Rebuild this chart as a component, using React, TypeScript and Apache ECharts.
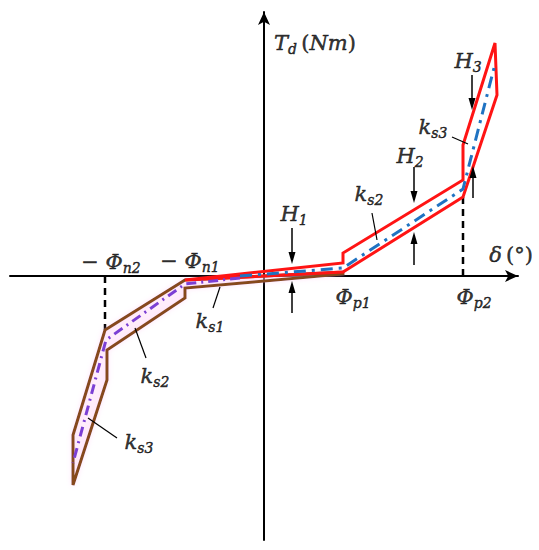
import React, { useEffect, useRef } from "react";
import * as echarts from "echarts";

// Schematic coordinates (x: twist angle δ, y: torque T_d), origin at the axes crossing
const posBandX = [-79, 79, 79, 199, 199, 231, 233, 199, 79];
const posBandY = [-4, 13, 23, 96, 131, 233, 181, 79, 4];
const negBandX = [-79, 79, 79, -79, -79, -157, -157, -191, -191, -159];
const negBandY = [-4, 4, 2, -12, -22, -74, -104, -209, -159, -54];
const posMidX = [-24, 79, 199, 230];
const posMidY = [0, 8, 87, 208];
const negMidX = [-24, -79, -158, -191];
const negMidY = [-2, -8, -64, -187];

// dashed guide lines at Φp2 and -Φn2
const guideX1 = [199, -159];
const guideY1 = [0, 0];
const guideX2 = [199, -159];
const guideY2 = [79, -54];

// H arrows: from (x1,y1) to tip (x2,y2)
const arrowX1 = [28, 28, 150, 150, 208, 209];
const arrowY1 = [48, -37, 109, 11, 201, 78];
const arrowX2 = [28, 28, 150, 150, 208, 209];
const arrowY2 = [12, -5, 73, 44, 166, 110];

// leader lines for k labels
const leaderX1 = [188, 108, -51, -129, -176];
const leaderY1 = [139, 63, -32, -52, -142];
const leaderX2 = [204, 113, -44, -118, -147];
const leaderY2 = [132, 36, -11, -82, -162];

// text labels
const labelText = [
  "{m|T}{s|d}{u|\u2009(}{m|Nm}{u|)}",
  "{m|δ}{u|\u2009(°)}",
  "{u|− }{m|Φ}{s|n2}",
  "{u|− }{m|Φ}{s|n1}",
  "{m|Φ}{s|p1}",
  "{m|Φ}{s|p2}",
  "{m|H}{s|1}",
  "{m|H}{s|2}",
  "{m|H}{s|3}",
  "{m|k}{s|s1}",
  "{m|k}{s|s2}",
  "{m|k}{s|s3}",
  "{m|k}{s|s2}",
  "{m|k}{s|s3}",
];
const labelX = [51, 247, -153, -74, 89, 210, 30, 146, 204, -54, 105, 169, -109, -125];
const labelY = [232, 20, 13, 14, -22, -22, 61, 119, 214, -46, 81, 148, -101, -167];

const pair = (xs: number[], ys: number[]) => xs.map((x, i) => [x, ys[i]]);

const FONT = "'DejaVu Serif', 'Liberation Serif', serif";
const common = { fontFamily: FONT, color: "#000", textBorderColor: "#000", textBorderWidth: 0.5, lineHeight: 24 };
const rich = {
  m: { ...common, fontStyle: "italic", fontSize: 21, verticalAlign: "top" },
  s: { ...common, fontStyle: "italic", fontSize: 14, verticalAlign: "bottom" },
  u: { ...common, fontSize: 21, verticalAlign: "top" },
};

function polygonSeries(xs: number[], ys: number[], stroke: string, fill: string, z: number, halo?: string) {
  return {
    type: "custom",
    coordinateSystem: "cartesian2d",
    silent: true,
    z,
    data: [[xs[0], ys[0]]],
    renderItem: (_p: any, api: any) => ({
      type: "polygon",
      shape: { points: pair(xs, ys).map((p) => api.coord(p)) },
      style: {
        fill,
        stroke,
        lineWidth: 3,
        lineJoin: "miter",
        miterLimit: 10,
        shadowBlur: halo ? 5 : 0,
        shadowColor: halo || "transparent",
      },
    }),
  };
}

function segmentSeries(x1: number[], y1: number[], x2: number[], y2: number[], width: number, dash: any, head: boolean, z: number) {
  return {
    type: "custom",
    coordinateSystem: "cartesian2d",
    silent: true,
    z,
    data: x1.map((x, i) => [x, y1[i], x2[i], y2[i]]),
    renderItem: (_p: any, api: any) => {
      const a = api.coord([api.value(0), api.value(1)]);
      const b = api.coord([api.value(2), api.value(3)]);
      const children: any[] = [];
      const dx = b[0] - a[0];
      const dy = b[1] - a[1];
      const len = Math.hypot(dx, dy) || 1;
      const ux = dx / len;
      const uy = dy / len;
      const hl = 12;
      const hw = 3.5;
      const end = head ? [b[0] - ux * hl * 0.8, b[1] - uy * hl * 0.8] : b;
      children.push({
        type: "line",
        shape: { x1: a[0], y1: a[1], x2: end[0], y2: end[1] },
        style: { stroke: "#000", lineWidth: width, lineDash: dash },
      });
      if (head) {
        const bx = b[0] - ux * hl;
        const by = b[1] - uy * hl;
        children.push({
          type: "polygon",
          shape: {
            points: [
              [b[0], b[1]],
              [bx - uy * hw, by + ux * hw],
              [bx + uy * hw, by - ux * hw],
            ],
          },
          style: { fill: "#000" },
        });
      }
      return { type: "group", children };
    },
  };
}

const App = () => {
  const ref = useRef<HTMLDivElement>(null);
  useEffect(() => {
    const chart = echarts.init(ref.current!, null, { renderer: "svg" });
    const hiddenAxisParts = {
      axisTick: { show: false },
      axisLabel: { show: false },
      splitLine: { show: false },
    };
    chart.setOption({
      animation: false,
      backgroundColor: "#fff",
      grid: { left: 10, right: 21, top: 12, bottom: 10, outerBoundsMode: "none", containLabel: false },
      xAxis: {
        type: "value",
        min: -254,
        max: 254,
        axisLine: {
          show: true,
          onZero: true,
          symbol: ["none", "arrow"],
          symbolSize: [9, 13],
          lineStyle: { color: "#000", width: 2 },
        },
        ...hiddenAxisParts,
      },
      yAxis: {
        type: "value",
        min: -264,
        max: 264,
        axisLine: {
          show: true,
          onZero: true,
          symbol: ["none", "arrow"],
          symbolSize: [9, 13],
          lineStyle: { color: "#000", width: 2 },
        },
        ...hiddenAxisParts,
      },
      series: [
        segmentSeries(guideX1, guideY1, guideX2, guideY2, 2.5, [7, 5], false, 2),
        polygonSeries(negBandX, negBandY, "#864a1a", "rgba(255,222,248,0.35)", 3, "rgba(255,170,235,0.35)"),
        polygonSeries(posBandX, posBandY, "#ff1414", "none", 4),
        {
          type: "line",
          data: pair(negMidX, negMidY),
          symbol: "none",
          silent: true,
          z: 5,
          lineStyle: { color: "#7b3fd4", width: 3, type: [10, 5, 2, 5] },
        },
        {
          type: "line",
          data: pair(posMidX, posMidY),
          symbol: "none",
          silent: true,
          z: 5,
          lineStyle: { color: "#1f73c2", width: 3, type: [12, 6, 3, 6] },
        },
        segmentSeries(arrowX1, arrowY1, arrowX2, arrowY2, 1.5, null, true, 6),
        segmentSeries(leaderX1, leaderY1, leaderX2, leaderY2, 1.2, null, false, 6),
        {
          type: "scatter",
          silent: true,
          z: 7,
          symbolSize: 0,
          data: labelText.map((t, i) => ({
            value: [labelX[i], labelY[i]],
            label: { formatter: t },
          })),
          label: {
            show: true,
            position: [0, 0],
            align: "center",
            verticalAlign: "middle",
            rich,
          },
        },
      ],
    });
    return () => chart.dispose();
  }, []);
  return (
    <div
      ref={ref}
      style={{ position: "absolute", left: 0, top: 0, width: 539, height: 550, background: "#fff" }}
    />
  );
};

export default App;
